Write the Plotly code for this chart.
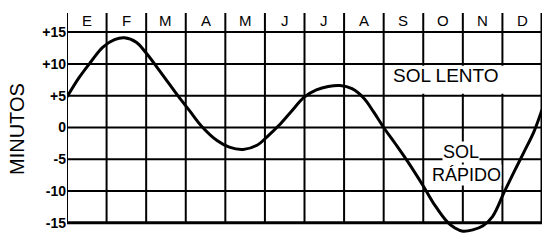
import plotly.graph_objects as go

months = ["E", "F", "M", "A", "M", "J", "J", "A", "S", "O", "N", "D"]
curve_x = [0.0, 0.3, 0.6, 0.9, 1.2, 1.45, 1.75, 2.0, 2.4, 2.8, 3.1, 3.4, 3.8, 4.1, 4.45, 4.8,
           5.1, 5.35, 5.65, 6.0, 6.3, 6.6, 6.9, 7.2, 7.5, 7.75, 8.0, 8.3, 8.6, 9.0, 9.3,
           9.6, 9.8, 10.0, 10.25, 10.5, 10.75, 11.05, 11.3, 11.55, 11.8, 12.0]
curve_y = [4.8, 7.8, 10.3, 12.6, 13.8, 14.1, 13.4, 11.7, 8.4, 5.0, 2.6, 0.2, -2.1, -3.1, -3.45, -2.8,
           -1.2, 0.3, 2.4, 4.8, 5.9, 6.45, 6.6, 6.1, 4.6, 2.4, 0.0, -2.6, -5.3, -9.2, -12.3,
           -14.8, -15.8, -16.3, -16.1, -15.5, -14.0, -10.1, -6.9, -3.8, -0.6, 2.8]
ytick_vals = [-15, -10, -5, 0, 5, 10, 15]
ytick_text = ["-15", "-10", "-5", "0", "+5", "+10", "+15"]
month_edges = list(range(13))

Y_BOTTOM, Y_TOP = -15, 18

fig = go.Figure()
fig.add_trace(go.Scatter(x=curve_x, y=curve_y, mode="lines",
                         line=dict(color="black", width=3, shape="spline", smoothing=1.0),
                         hoverinfo="skip"))

fig.update_layout(
    width=550, height=246,
    margin=dict(l=67, r=8, t=13, b=12),
    paper_bgcolor="white", plot_bgcolor="white",
    showlegend=False,
    font=dict(family="Liberation Sans", color="black"),
)
fig.update_xaxes(range=[0, 12], showticklabels=False, showgrid=False, zeroline=False,
                 showline=False, ticks="")
fig.update_yaxes(range=[-16.75, Y_TOP], tickvals=ytick_vals, ticktext=ytick_text,
                 showgrid=False, zeroline=False, showline=False, ticks="",
                 tickfont=dict(size=14, family="Liberation Sans", weight="bold"))

# horizontal grid lines
for v in ytick_vals:
    fig.add_shape(type="line", x0=0, x1=12, y0=v, y1=v, xref="x", yref="y",
                  line=dict(color="black", width=3 if v == Y_BOTTOM else 2), layer="below")
# vertical grid lines
for e in month_edges:
    fig.add_shape(type="line", x0=e, x1=e, y0=Y_BOTTOM, y1=Y_TOP, xref="x", yref="y",
                  line=dict(color="black", width=3 if e == 12 else 2), layer="below")
# white box behind SOL LENTO
fig.add_shape(type="rect", x0=8.06, x1=11.94, y0=5.3, y1=9.7, xref="x", yref="y",
              fillcolor="white", line=dict(width=0), layer="below")

for i, m in enumerate(months):
    fig.add_annotation(x=i + 0.5, y=16.9, text=m, showarrow=False,
                       font=dict(size=15, family="Liberation Sans"))

fig.add_annotation(x=9.57, y=8.2, text="SOL LENTO", showarrow=False,
                   font=dict(size=19, family="Liberation Sans"))
fig.add_annotation(x=9.95, y=-3.9, text="SOL", showarrow=False, bgcolor="white",
                   borderpad=0, font=dict(size=18, family="Liberation Sans"))
fig.add_annotation(x=10.1, y=-7.5, text="RÁPIDO", showarrow=False, bgcolor="white",
                   borderpad=0, font=dict(size=18, family="Liberation Sans"))
fig.add_annotation(xref="paper", x=-0.104, xanchor="center", y=-0.3, text="MINUTOS",
                   showarrow=False, textangle=-90,
                   font=dict(size=20, family="Liberation Sans"))

fig.write_html("out.html")
